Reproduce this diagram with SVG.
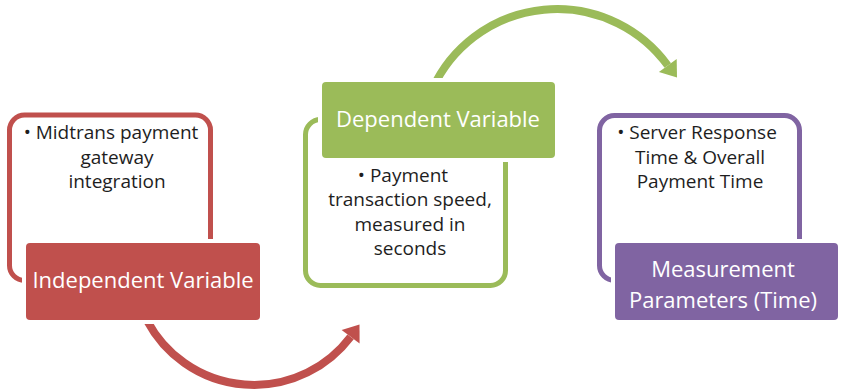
<svg xmlns="http://www.w3.org/2000/svg" width="841" height="392" viewBox="0 0 841 392">
<style>
.frame{fill:none;stroke-width:5}
.box{stroke:#fff;stroke-width:8;paint-order:stroke}
.title{font-family:"Open Sans","Liberation Sans",sans-serif;font-size:22px;fill:#fff;text-anchor:middle}
.bullet{font-family:"Open Sans","Liberation Sans",sans-serif;font-size:19px;fill:#1e1e1e;text-anchor:middle}
.arc{fill:none;stroke-width:8}
</style>
<rect width="841" height="392" fill="#fff"/>
<g id="connectors">
<g id="arrow-red">
<path class="arc" stroke="#C0504D" d="M147.2 320.8 A121 121 0 0 0 350.6 336.8"/>
<polygon fill="#C0504D" points="359.5,324.5 359.6,343.5 341.6,330.1"/>
</g>
<g id="arrow-green">
<path class="arc" stroke="#9BBB59" d="M432.8 88.1 A137 137 0 0 1 667.8 65.5"/>
<polygon fill="#9BBB59" points="677,77.5 676.7,59 658.9,72"/>
</g>
</g>
<g id="independent">
<rect class="frame" stroke="#C0504D" x="9.5" y="115" width="201" height="165.5" rx="15"/>
<text class="bullet"><tspan x="111" y="139">• Midtrans payment</tspan><tspan x="117" y="163.5">gateway</tspan><tspan x="117" y="188">integration</tspan></text>
<rect class="box" fill="#C0504D" x="26" y="243" width="234" height="77" rx="4"/>
<text class="title" x="143" y="288">Independent Variable</text>
</g>
<g id="dependent">
<rect class="frame" stroke="#9BBB59" x="305.5" y="119.5" width="200" height="166" rx="15"/>
<rect class="box" fill="#9BBB59" x="322" y="82" width="233" height="76" rx="4"/>
<text class="title" x="438" y="127">Dependent Variable</text>
<text class="bullet"><tspan x="403" y="181.5">• Payment</tspan><tspan x="410" y="206">transaction speed,</tspan><tspan x="410" y="230.5">measured in</tspan><tspan x="410" y="255">seconds</tspan></text>
</g>
<g id="measurement">
<rect class="frame" stroke="#8064A2" x="599.5" y="115.5" width="200" height="165" rx="15"/>
<text class="bullet"><tspan x="697" y="139">• Server Response</tspan><tspan x="700" y="163.5">Time &amp; Overall</tspan><tspan x="700" y="188">Payment Time</tspan></text>
<rect class="box" fill="#8064A2" x="615" y="243" width="223" height="77" rx="4"/>
<text class="title"><tspan x="723" y="277">Measurement</tspan><tspan x="723" y="308">Parameters (Time)</tspan></text>
</g>
</svg>
